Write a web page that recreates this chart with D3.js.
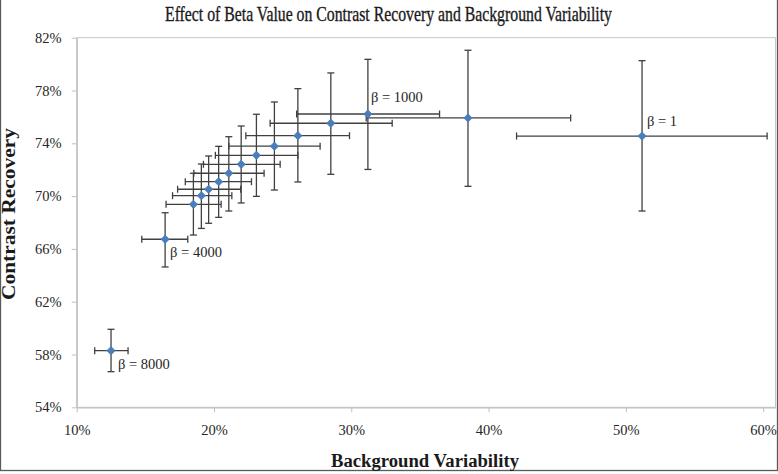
<!DOCTYPE html>
<html>
<head>
<meta charset="utf-8">
<script src="https://cdn.jsdelivr.net/npm/d3@7"></script>
<style>
html,body{margin:0;padding:0;background:#fff;}
svg{display:block;}
</style>
</head>
<body>
<svg id="chart" width="778" height="474"></svg>
<script>
// ---- data (percent) ----
const betaLabels = ["β = 8000","β = 4000","","","","","","","","","","","β = 1000","","β = 1"];
const bgVariability = [12.50,16.44,18.50,19.08,19.61,20.34,21.08,21.98,23.09,24.40,26.11,28.51,31.21,38.50,51.18];
const bgVarLow      = [11.31,14.74,16.51,16.98,17.35,17.91,18.53,19.23,20.10,21.08,22.32,24.09,26.02,31.09,42.04];
const bgVarHigh     = [13.74,18.09,20.52,21.30,21.94,22.73,23.65,24.82,26.11,27.73,29.87,32.98,36.43,45.98,60.29];
const contrastRecovery = [58.29,66.73,69.38,70.03,70.52,71.09,71.73,72.41,73.09,73.78,74.58,75.52,76.22,75.92,74.55];
const crLow  = [56.70,64.63,67.05,67.55,67.94,68.39,68.87,69.48,69.98,70.46,71.07,71.65,72.02,70.74,68.87];
const crHigh = [59.91,68.74,71.73,72.43,73.04,73.77,74.50,75.31,76.20,77.13,78.14,79.33,80.36,81.05,80.26];
const xTicks = [10,20,30,40,50,60];
const yTicks = [54,58,62,66,70,74,78,82];
const titleText = "Effect of Beta Value on Contrast Recovery and Background Variability";
const xTitle = "Background Variability";
const yTitle = "Contrast Recovery";

const points = bgVariability.map((x,i)=>({x, y:contrastRecovery[i], xl:bgVarLow[i], xh:bgVarHigh[i], yl:crLow[i], yh:crHigh[i], label:betaLabels[i]}));

const W = 778, H = 474;
const m = {left:76.7, top:37.7, right:2.5, bottom:66.7};
const svg = d3.select("#chart");
const serif = "'Palatino Linotype','Book Antiqua',Palatino,'Liberation Serif',serif";

const x = d3.scaleLinear().domain([10, 60.9]).range([m.left, W - m.right]);
const y = d3.scaleLinear().domain([54, 82]).range([H - m.bottom, m.top]);

// outer chart border
svg.append("rect").attr("x",0.5).attr("y",-2).attr("width",W-1).attr("height",H-1.5)
  .attr("fill","none").attr("stroke","#5a5a5a").attr("stroke-width",1.3);

// plot area frame
svg.append("rect").attr("x",x(10)).attr("y",y(82)).attr("width",x(60.9)-x(10)).attr("height",y(54)-y(82))
  .attr("fill","none").attr("stroke","#c6c6c6").attr("stroke-width",1);

// axes
const xAxis = d3.axisBottom(x).tickValues(xTicks).tickFormat(d=>d+"%").tickSizeInner(5).tickSizeOuter(0).tickPadding(12);
const yAxis = d3.axisLeft(y).tickValues(yTicks).tickFormat(d=>d+"%").tickSizeInner(5).tickSizeOuter(0).tickPadding(10);

const gx = svg.append("g").attr("transform",`translate(0,${y(54)})`).call(xAxis);
const gy = svg.append("g").attr("transform",`translate(${x(10)},0)`).call(yAxis);
[gx,gy].forEach(g=>{
  g.select(".domain").attr("stroke","#c0c0c0").attr("stroke-width",1.3);
  g.selectAll(".tick line").attr("stroke","#c0c0c0").attr("stroke-width",1);
  g.selectAll(".tick text").attr("font-family",serif).attr("font-size",14.5).attr("fill","#262626");
});

// error bars
const eb = svg.append("g").attr("stroke","#404040").attr("stroke-width",1.3).attr("fill","none");
const cap = 3.5;
points.forEach(p=>{
  eb.append("line").attr("x1",x(p.xl)).attr("x2",x(p.xh)).attr("y1",y(p.y)).attr("y2",y(p.y));
  eb.append("line").attr("x1",x(p.xl)).attr("x2",x(p.xl)).attr("y1",y(p.y)-cap).attr("y2",y(p.y)+cap);
  eb.append("line").attr("x1",x(p.xh)).attr("x2",x(p.xh)).attr("y1",y(p.y)-cap).attr("y2",y(p.y)+cap);
  eb.append("line").attr("x1",x(p.x)).attr("x2",x(p.x)).attr("y1",y(p.yl)).attr("y2",y(p.yh));
  eb.append("line").attr("x1",x(p.x)-cap).attr("x2",x(p.x)+cap).attr("y1",y(p.yl)).attr("y2",y(p.yl));
  eb.append("line").attr("x1",x(p.x)-cap).attr("x2",x(p.x)+cap).attr("y1",y(p.yh)).attr("y2",y(p.yh));
});

// markers (diamonds)
svg.append("g").selectAll("path").data(points).join("path")
  .attr("d", d3.symbol().type(d3.symbolDiamond2).size(44))
  .attr("transform", d=>`translate(${x(d.x)},${y(d.y)})`)
  .attr("fill","#4a7ebb").attr("stroke","#4a7ebb").attr("stroke-width",0.8);

// data labels
const labelOffsets = {"β = 8000":[7,18],"β = 4000":[5,18],"β = 1000":[3,-12],"β = 1":[5,-10]};
svg.append("g").selectAll("text").data(points.filter(p=>p.label)).join("text")
  .attr("x", d=>x(d.x)+labelOffsets[d.label][0])
  .attr("y", d=>y(d.y)+labelOffsets[d.label][1])
  .attr("font-family",serif).attr("font-size",14.5).attr("fill","#262626")
  .text(d=>d.label);

svg.append("text").attr("x",388.5).attr("y",21).attr("text-anchor","middle")
  .attr("font-family",serif).attr("font-size",21).attr("fill","#1a1a1a")
  .attr("stroke","#1a1a1a").attr("stroke-width",0.35)
  .attr("textLength",447).attr("lengthAdjust","spacingAndGlyphs").text(titleText);

svg.append("text").attr("x",425).attr("y",467).attr("text-anchor","middle")
  .attr("font-family",serif).attr("font-weight","bold").attr("font-size",18).attr("fill","#1a1a1a")
  .attr("textLength",188).attr("lengthAdjust","spacingAndGlyphs").text(xTitle);

svg.append("text").attr("transform","translate(15,214) rotate(-90)").attr("text-anchor","middle")
  .attr("font-family",serif).attr("font-weight","bold").attr("font-size",18).attr("fill","#1a1a1a")
  .attr("textLength",172).attr("lengthAdjust","spacingAndGlyphs").text(yTitle);
</script>
</body>
</html>
